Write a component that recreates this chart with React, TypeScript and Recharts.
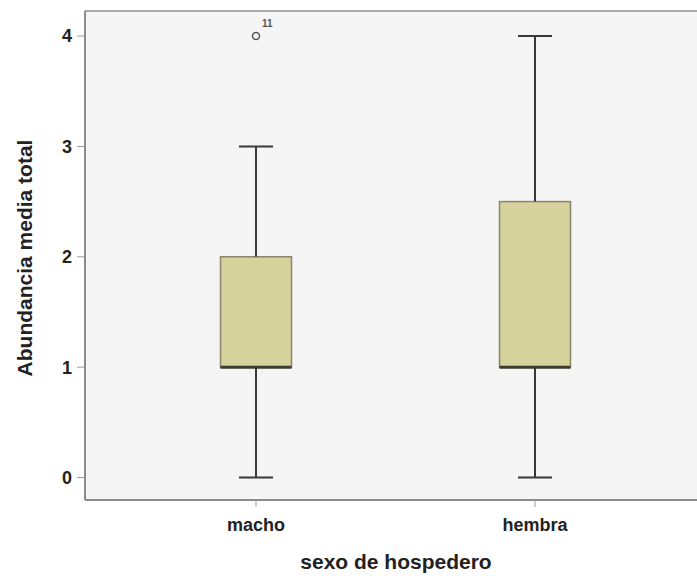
import {
  Bar,
  CartesianGrid,
  ComposedChart,
  Label,
  ReferenceLine,
  Scatter,
  XAxis,
  YAxis,
} from "recharts";

// Boxplot statistics per host sex
const categories = ["macho", "hembra"];
const minimo = [0, 0];
const q1 = [1, 1];
const mediana = [1, 1];
const q3 = [2, 2.5];
const maximo = [3, 4];

// Outliers (category, value, case number)
const atipicoCategoria = ["macho"];
const atipicoValor = [4];
const atipicoCaso = ["11"];

const yTicks = [0, 1, 2, 3, 4];
const Y_MIN = -0.204;
const Y_MAX = 4.227;

const FONT = "'Liberation Sans', Arial, sans-serif";
const BOX_FILL = "#d6d29c";
const BOX_STROKE = "#8a8568";
const WHISKER = "#3a3a3a";
const BOX_W = 71;
const CAP_W = 34;

const data = categories.map((sexo, i) => ({
  sexo,
  base: minimo[i],
  bigoteInf: q1[i] - minimo[i],
  cajaInf: mediana[i] - q1[i],
  cajaSup: q3[i] - mediana[i],
  bigoteSup: maximo[i] - q3[i],
  mediana: mediana[i],
}));

const atipicos = atipicoCategoria.map((sexo, i) => ({
  sexo,
  valor: atipicoValor[i],
  caso: atipicoCaso[i],
}));

function LowerWhisker(p: any) {
  const cx = p.x + p.width / 2;
  const yb = p.y + p.height;
  return (
    <g stroke={WHISKER} strokeWidth={2}>
      <line x1={cx} x2={cx} y1={p.y} y2={yb} />
      <line x1={cx - CAP_W / 2} x2={cx + CAP_W / 2} y1={yb} y2={yb} />
    </g>
  );
}

function UpperWhisker(p: any) {
  const cx = p.x + p.width / 2;
  return (
    <g stroke={WHISKER} strokeWidth={2}>
      <line x1={cx} x2={cx} y1={p.y} y2={p.y + p.height} />
      <line x1={cx - CAP_W / 2} x2={cx + CAP_W / 2} y1={p.y} y2={p.y} />
    </g>
  );
}

function BoxPart(p: any) {
  if (!p.height) return null;
  return (
    <rect
      x={p.x}
      y={p.y}
      width={p.width}
      height={p.height}
      fill={BOX_FILL}
      stroke={BOX_STROKE}
      strokeWidth={1.5}
    />
  );
}

function MedianLine(p: any) {
  return (
    <line
      x1={p.cx - BOX_W / 2}
      x2={p.cx + BOX_W / 2}
      y1={p.cy}
      y2={p.cy}
      stroke="#3b392c"
      strokeWidth={3}
    />
  );
}

function Outlier(p: any) {
  return (
    <g>
      <circle cx={p.cx} cy={p.cy} r={3.5} fill="none" stroke="#555" strokeWidth={1.5} />
      <text
        x={p.cx + 6}
        y={p.cy - 9}
        fontSize={10}
        fontWeight="bold"
        fontFamily={FONT}
        fill="#555"
      >
        {p.payload.caso}
      </text>
    </g>
  );
}

function YTitle() {
  return (
    <text
      x={32}
      y={258}
      transform="rotate(-90, 32, 258)"
      textAnchor="middle"
      fontSize={21}
      fontWeight="bold"
      fontFamily={FONT}
      fill="#222"
    >
      Abundancia media total
    </text>
  );
}

function XTitle() {
  return (
    <text
      x={396}
      y={569}
      textAnchor="middle"
      fontSize={21}
      fontWeight="bold"
      fontFamily={FONT}
      fill="#222"
    >
      sexo de hospedero
    </text>
  );
}

const tickStyle = { fontSize: 18, fontWeight: "bold", fontFamily: FONT, fill: "#222" };

export default function App() {
  return (
    <div style={{ position: "absolute", left: 0, top: 0, width: 697, height: 576, background: "#fff" }}>
      <ComposedChart
        width={697}
        height={576}
        data={data}
        margin={{ top: 11, right: 0, bottom: 0, left: 0 }}
      >
        <CartesianGrid fill="#f5f5f5" horizontal={false} vertical={false} />
        <XAxis
          dataKey="sexo"
          type="category"
          allowDuplicatedCategory={false}
          height={76}
          padding={{ left: 31.5, right: 22.5 }}
          axisLine={{ stroke: "#8c8c8c", strokeWidth: 2 }}
          tickLine={{ stroke: "#999" }}
          tickSize={7}
          tickMargin={11}
          tick={tickStyle}
        >
          <Label content={<XTitle />} />
        </XAxis>
        <YAxis
          type="number"
          domain={[Y_MIN, Y_MAX]}
          allowDataOverflow
          ticks={yTicks}
          width={85}
          axisLine={{ stroke: "#8c8c8c", strokeWidth: 2 }}
          tickLine={{ stroke: "#999" }}
          tickSize={8}
          tickMargin={5}
          tick={tickStyle}
        >
          <Label content={<YTitle />} />
        </YAxis>
        <ReferenceLine y={Y_MAX} stroke="#a8a8a8" strokeWidth={2} ifOverflow="visible" />
        <Bar dataKey="base" stackId="box" barSize={BOX_W} fill="none" isAnimationActive={false} />
        <Bar
          dataKey="bigoteInf"
          stackId="box"
          barSize={BOX_W}
          shape={(p: any) => <LowerWhisker {...p} />}
          isAnimationActive={false}
        />
        <Bar
          dataKey="cajaInf"
          stackId="box"
          barSize={BOX_W}
          shape={(p: any) => <BoxPart {...p} />}
          isAnimationActive={false}
        />
        <Bar
          dataKey="cajaSup"
          stackId="box"
          barSize={BOX_W}
          shape={(p: any) => <BoxPart {...p} />}
          isAnimationActive={false}
        />
        <Bar
          dataKey="bigoteSup"
          stackId="box"
          barSize={BOX_W}
          shape={(p: any) => <UpperWhisker {...p} />}
          isAnimationActive={false}
        />
        <Scatter
          dataKey="mediana"
          shape={(p: any) => <MedianLine {...p} />}
          isAnimationActive={false}
        />
        <Scatter
          data={atipicos}
          dataKey="valor"
          shape={(p: any) => <Outlier {...p} />}
          isAnimationActive={false}
        />
      </ComposedChart>
    </div>
  );
}
